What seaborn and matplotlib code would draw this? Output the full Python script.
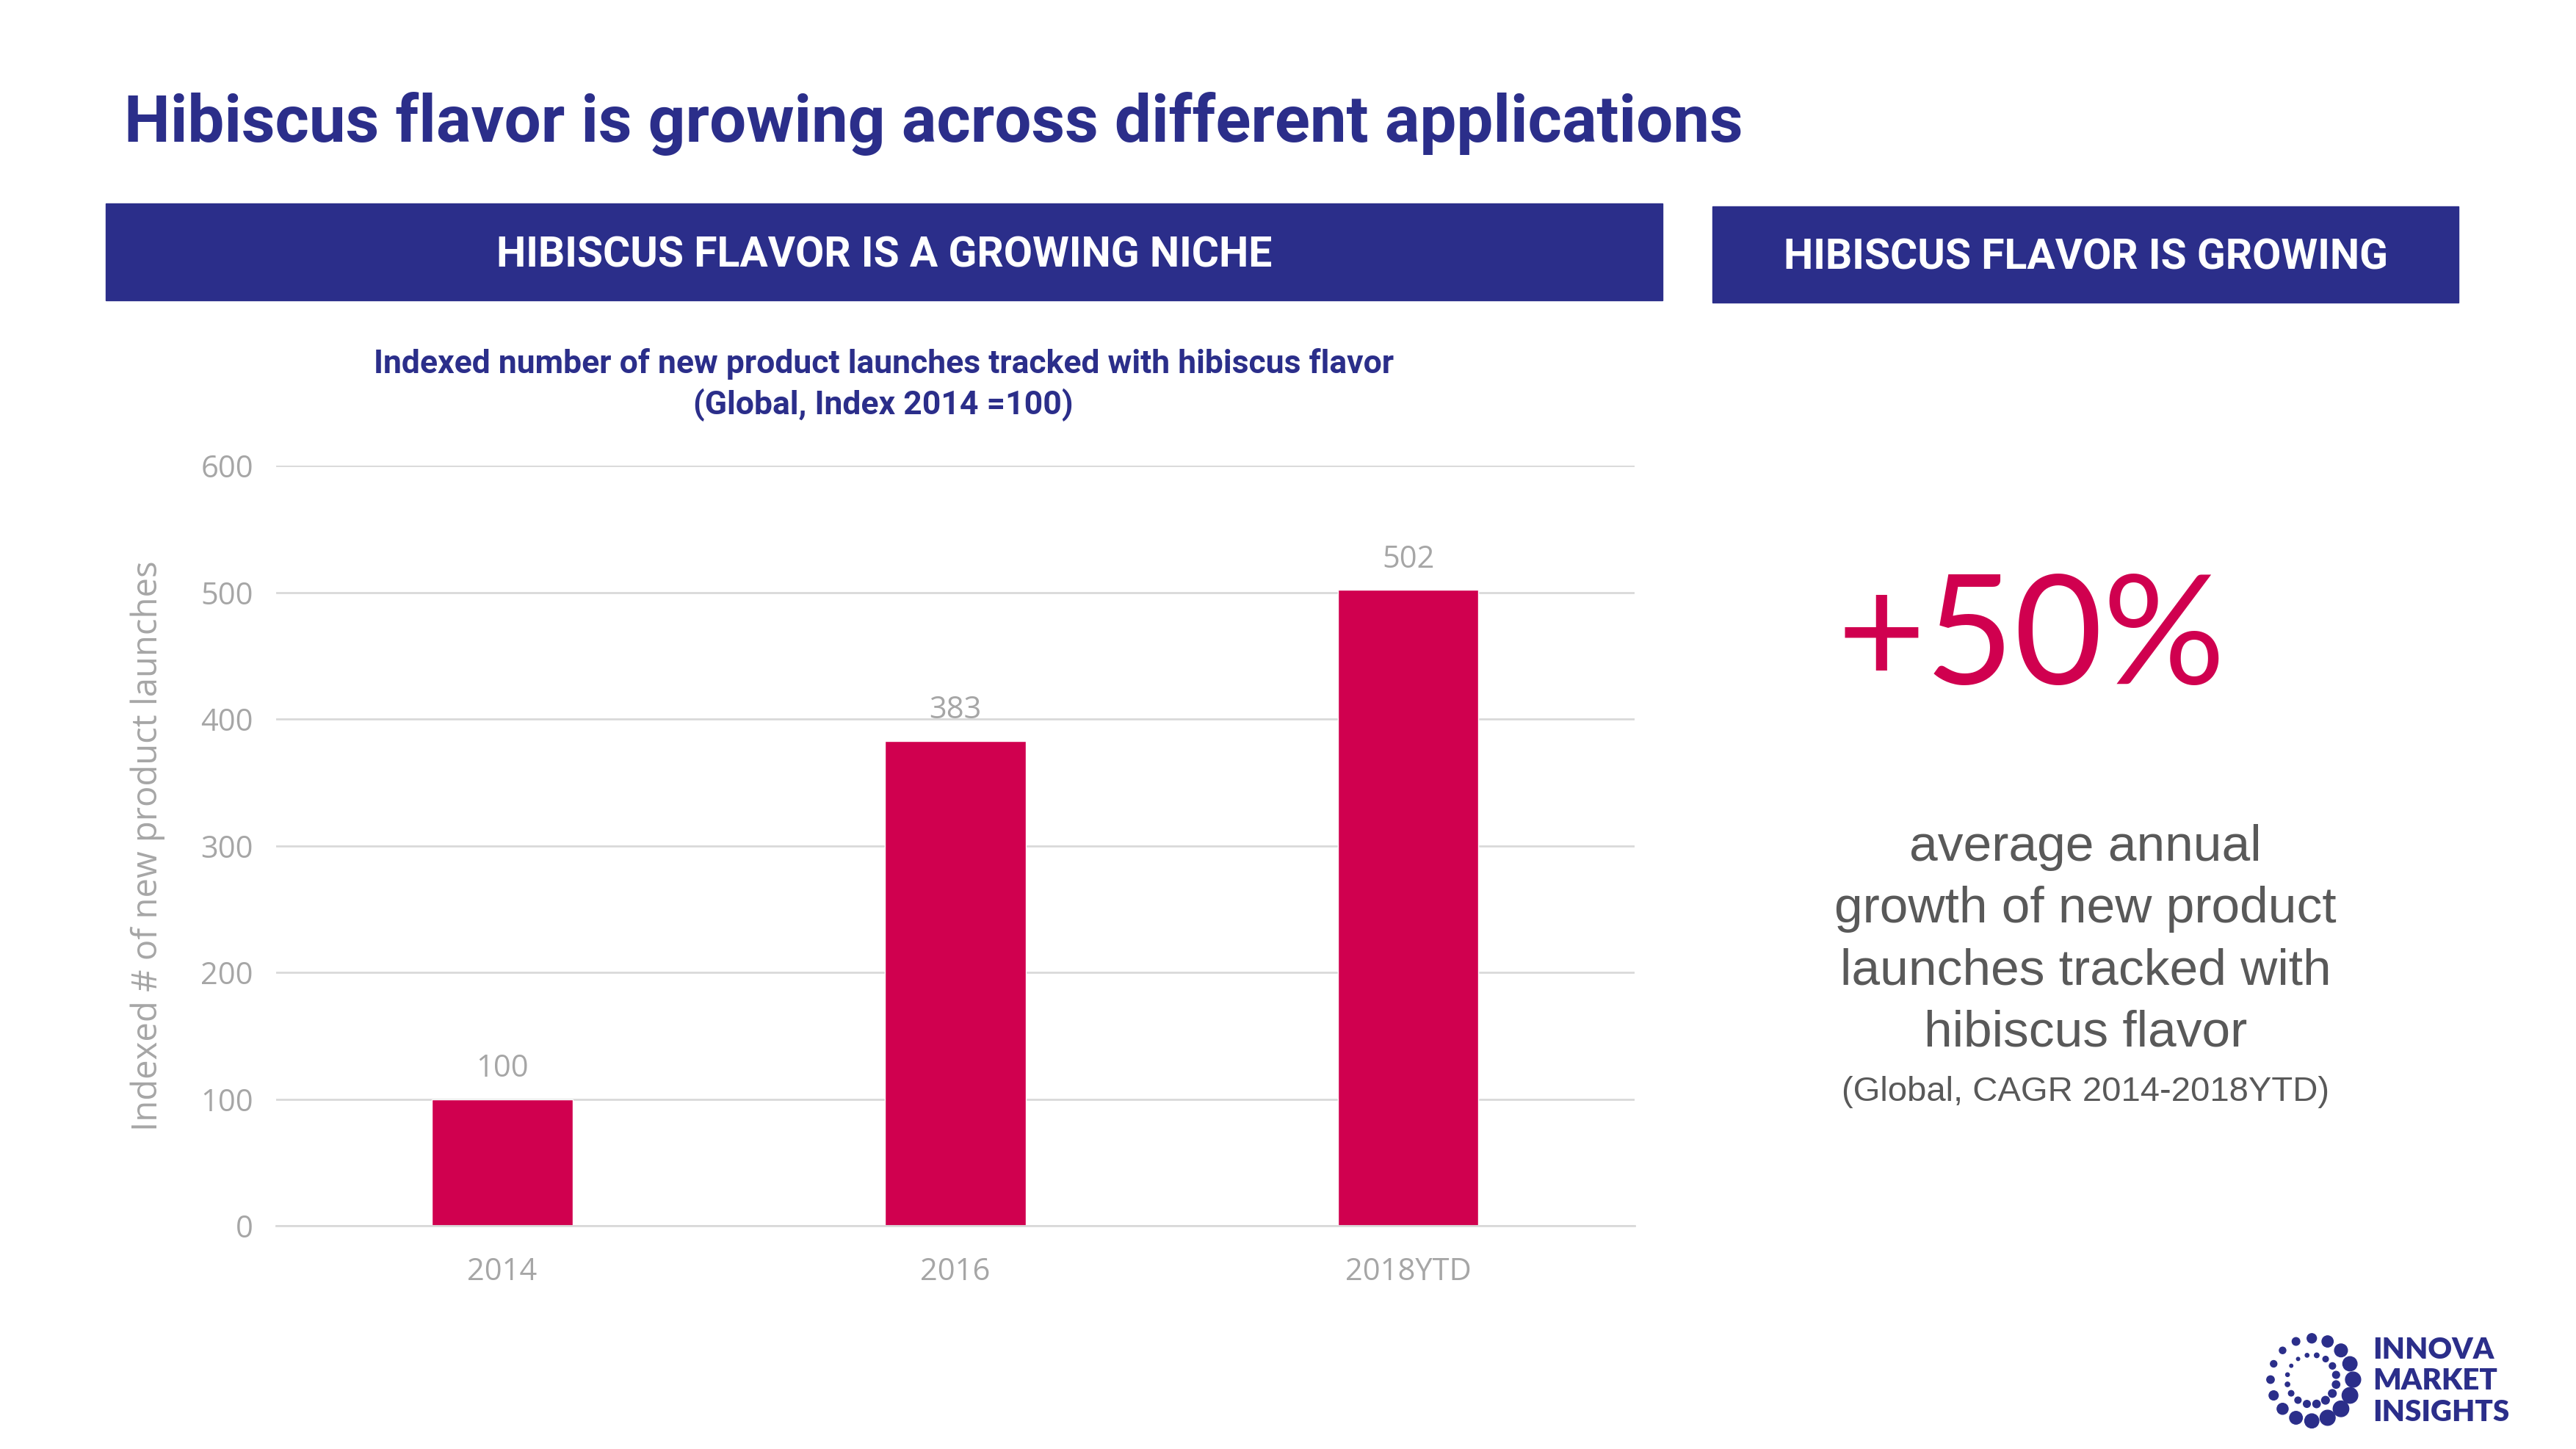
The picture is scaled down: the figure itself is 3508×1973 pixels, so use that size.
import matplotlib
matplotlib.use("Agg")
import matplotlib.pyplot as plt
import seaborn as sns
import numpy as np
import pandas as pd
from matplotlib.patches import Rectangle

years = ["2014", "2016", "2018YTD"]
index_values = [100, 383, 502]

NAVY = "#2B2E8A"
PINK = "#D0004F"
GREY = "#595959"

sns.set_theme(style="white")
plt.rcParams["font.family"] = ["Roboto", "DejaVu Sans"]

W, H = 1560, 877  # layout coordinates from reference
fig = plt.figure(figsize=(35.08, 19.73), dpi=100)

def fx(x):
    return x / W

def fy(y):
    return 1 - y / H

fig.text(fx(75), fy(75), "Hibiscus flavor is growing across different applications",
         color=NAVY, fontsize=64, fontweight="bold", va="center", ha="left")

for x0, x1, y0, y1, label in [(64, 1007, 123, 182, "HIBISCUS FLAVOR IS A GROWING NICHE"),
                               (1037, 1489, 125, 183, "HIBISCUS FLAVOR IS GROWING")]:
    fig.patches.append(Rectangle((fx(x0), fy(y1)), fx(x1 - x0), (y1 - y0) / H,
                                 transform=fig.transFigure, color=NAVY))
    fig.text(fx((x0 + x1) / 2), fy((y0 + y1) / 2 + 2), label, color="white",
             fontsize=41, fontweight="bold", ha="center", va="center")

fig.text(fx(535), fy(233), "Indexed number of new product launches tracked with hibiscus flavor\n(Global, Index 2014 =100)",
         color=NAVY, fontsize=32, fontweight="bold", ha="center", va="center", linespacing=1.35)

ax = fig.add_axes([fx(167), fy(742), fx(990 - 167), (742 - 282) / H])
df = pd.DataFrame({"year": years, "value": index_values})
sns.barplot(data=df, x="year", y="value", color=PINK, width=0.31, ax=ax, saturation=1)
ax.set_ylim(0, 600)
ax.set_yticks(range(0, 601, 100))
ax.grid(axis="y", color="#D9D9D9", linewidth=2)
ax.set_axisbelow(True)
for s in ["top", "right", "left"]:
    ax.spines[s].set_visible(False)
ax.spines["bottom"].set_color("#D9D9D9")
ax.spines["bottom"].set_linewidth(2)
ax.tick_params(axis="y", colors="#A6A6A6", labelsize=30, length=0, pad=22)
ax.tick_params(axis="x", colors="#A6A6A6", labelsize=30, length=0, pad=30)
for lab in ax.get_xticklabels() + ax.get_yticklabels():
    lab.set_fontfamily(["Open Sans", "DejaVu Sans"])
ax.set_xlabel("")
ax.set_ylabel("Indexed # of new product launches", color="#A6A6A6", fontsize=34,
              fontfamily=["Open Sans", "DejaVu Sans"], labelpad=35)
for i, v in enumerate(index_values):
    ax.text(i, v + 12, str(v), ha="center", va="bottom", color="#A6A6A6", fontsize=30,
            fontfamily=["Open Sans", "DejaVu Sans"])

fig.text(fx(1230), fy(388), "+50%", color=PINK, fontsize=150, ha="center", va="center",
         fontfamily=["Lato", "DejaVu Sans"], fontweight="normal")
fig.text(fx(1263), fy(569), "average annual\ngrowth of new product\nlaunches tracked with\nhibiscus flavor",
         color=GREY, fontsize=50, ha="center", va="center", linespacing=1.4,
         fontfamily=["Liberation Sans", "DejaVu Sans"])
fig.text(fx(1263), fy(661), "(Global, CAGR 2014-2018YTD)", color=GREY, fontsize=34,
         ha="center", va="center", fontfamily=["Liberation Sans", "DejaVu Sans"])

# logo: ring of dots + wordmark
cx, cy, r = 1400, 835, 25
ang = np.linspace(0, 2 * np.pi, 16, endpoint=False)
sizes = 40 + 200 * (0.5 + 0.5 * np.sin(ang + 1.0))
lax = fig.add_axes([0, 0, 1, 1], facecolor="none")
lax.set_xlim(0, W)
lax.set_ylim(H, 0)
lax.axis("off")
lax.scatter(cx + r * np.cos(ang), cy + r * np.sin(ang), s=sizes, color=NAVY)
lax.scatter(cx + 15 * np.cos(ang + 0.2), cy + 15 * np.sin(ang + 0.2), s=sizes * 0.25, color=NAVY)
for k, word in enumerate(["INNOVA", "MARKET", "INSIGHTS"]):
    lax.text(1437, 817 + k * 19, word, color=NAVY, fontsize=29, fontweight="heavy",
             ha="left", va="center", fontfamily=["Lato", "DejaVu Sans"])

fig.savefig("out.png", dpi=100, facecolor="white")
